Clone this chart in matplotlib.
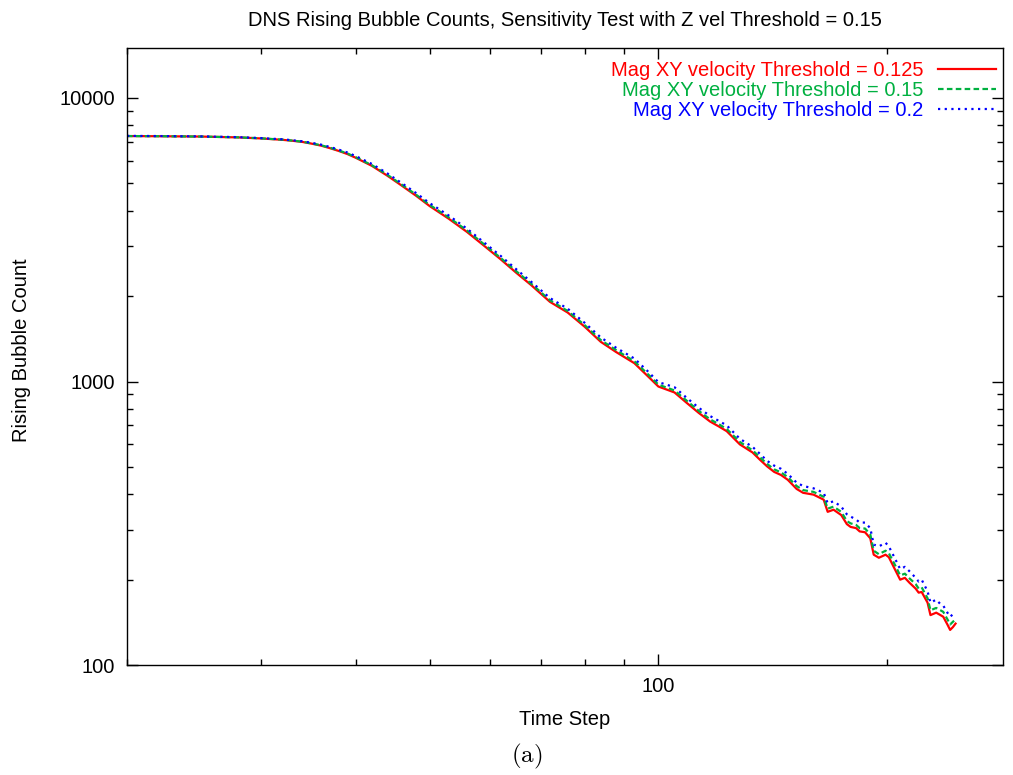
import matplotlib
matplotlib.use("Agg")
import matplotlib.pyplot as plt

plt.rcParams['font.family'] = ['Liberation Sans', 'DejaVu Sans']

# time steps and bubble counts
steps = [20, 22, 25, 28, 30, 32, 33, 34, 35, 36, 37, 38, 39, 40, 42, 44, 46, 48, 50,
         53, 56, 59, 62, 65, 68, 72, 76, 80, 84, 88, 93, 97, 100,
         105, 109, 113, 117, 120, 123, 128, 133, 136, 139, 142, 145, 148, 152, 155,
         160, 165, 167, 170, 174, 177, 179, 182, 184, 187, 190, 192, 195, 199, 201,
         205, 208, 211, 214, 218, 220, 222, 226, 228, 232, 235, 237, 240, 242, 244, 246]

thr_0125 = [7340, 7330, 7310, 7260, 7200, 7120, 7065, 7000, 6900, 6790, 6650, 6500,
            6340, 6150, 5760, 5320, 4900, 4520, 4160, 3750, 3370, 3010, 2700, 2420,
            2190, 1910, 1750, 1560, 1380, 1270, 1160, 1040, 960,
            915, 840, 775, 722, 695, 668, 600, 562, 530, 502, 480, 468, 450, 418, 405,
            399, 383, 347, 353, 338, 314, 307, 304, 296, 294, 280, 245, 239, 245, 240,
            216, 200, 203, 195, 186, 180, 181, 166, 150, 153, 150, 148, 139, 133, 136, 140]

thr_015 = [7340, 7330, 7310, 7265, 7205, 7130, 7075, 7010, 6915, 6810, 6675, 6525,
           6370, 6180, 5790, 5360, 4940, 4560, 4200, 3790, 3410, 3045, 2730, 2450,
           2215, 1935, 1772, 1580, 1400, 1290, 1178, 1058, 975,
           930, 855, 788, 735, 708, 680, 612, 572, 541, 512, 490, 478, 460, 428, 414,
           408, 392, 356, 362, 347, 322, 316, 312, 304, 303, 289, 253, 246, 253, 248,
           224, 207, 210, 202, 193, 186, 188, 172, 156, 159, 156, 154, 145, 139, 142, 145]

thr_02 = [7350, 7340, 7320, 7275, 7220, 7150, 7095, 7035, 6945, 6845, 6715, 6570,
          6420, 6235, 5850, 5420, 5000, 4620, 4260, 3850, 3460, 3090, 2775, 2490,
          2250, 1970, 1805, 1610, 1430, 1315, 1205, 1082, 995,
          955, 875, 808, 755, 727, 700, 628, 588, 556, 525, 505, 492, 472, 440, 428,
          420, 405, 372, 378, 362, 340, 334, 326, 318, 318, 304, 266, 262, 270, 262,
          236, 218, 222, 214, 203, 197, 200, 182, 166, 170, 164, 162, 153, 148, 151, 154]

fig = plt.figure(figsize=(10.13, 7.75), dpi=100)
ax = fig.add_axes([0.1254, 0.1419, 0.8647, 0.7961])

ax.plot(steps, thr_0125, color='#ff0000', lw=1.6, label='Mag XY velocity Threshold = 0.125')
ax.plot(steps, thr_015, color='#00b040', lw=1.6, linestyle=(0, (2.5, 1.5)),
        label='Mag XY velocity Threshold = 0.15')
ax.plot(steps, thr_02, color='#0000ff', lw=1.6, linestyle=(0, (1, 2)),
        label='Mag XY velocity Threshold = 0.2')

ax.set_xscale('log')
ax.set_yscale('log')
ax.set_xlim(20, 284)
ax.set_ylim(100, 15000)

ax.set_xticks([100])
ax.set_xticklabels(['100'])
ax.set_yticks([100, 1000, 10000])
ax.set_yticklabels(['100', '1000', '10000'])
ax.tick_params(which='both', direction='in', top=True, right=True, labelsize=14.5)
ax.tick_params(which='major', length=8, width=1, pad=8.5)
ax.tick_params(which='minor', length=4, width=1)
ax.xaxis.set_minor_formatter(matplotlib.ticker.NullFormatter())
ax.yaxis.set_minor_formatter(matplotlib.ticker.NullFormatter())
for s in ax.spines.values():
    s.set_linewidth(1.0)

ax.set_title('DNS Rising Bubble Counts, Sensitivity Test with Z vel Threshold = 0.15',
             fontsize=14.5, pad=16)
ax.set_xlabel('Time Step', fontsize=14.5, labelpad=10)
ax.set_ylabel('Rising Bubble Count', fontsize=14.5)
ax.yaxis.set_label_coords(-0.110, 0.51)

ax.legend(loc='upper right', bbox_to_anchor=(0.992, 0.979), frameon=False,
          markerfirst=False, labelcolor='linecolor', fontsize=14.5, handlelength=2.9,
          handletextpad=0.7, labelspacing=0.05, borderaxespad=0, borderpad=0)

fig.text(0.520, 0.0245, r'$\mathrm{(a)}$', fontsize=18, math_fontfamily='cm',
         ha='center', va='center')

fig.savefig('out.png', dpi=100)
